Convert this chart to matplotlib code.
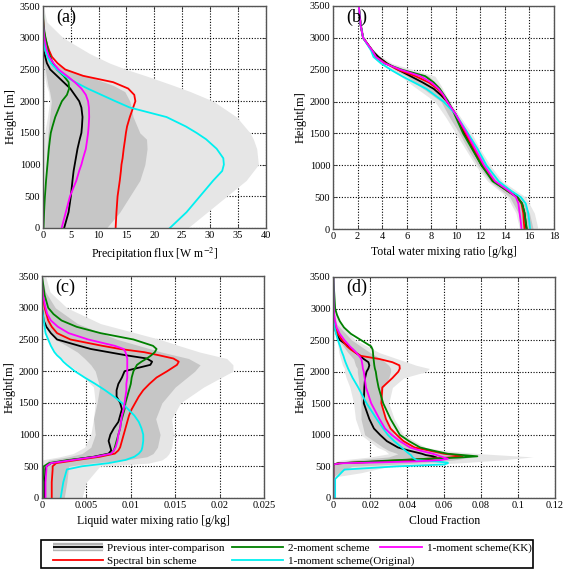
import numpy as np
import matplotlib
matplotlib.use('Agg')
import matplotlib.pyplot as plt
from matplotlib.lines import Line2D
from matplotlib.patches import Rectangle

plt.rcParams['font.family'] = ['Liberation Serif', 'DejaVu Serif']
plt.rcParams['mathtext.fontset'] = 'stix'

# === colours ===
C_LIGHT = '#e6e6e6'
C_DARK = '#c6c6c6'
C_RED = '#ff0000'
C_GREEN = '#008000'
C_CYAN = '#00f0f0'
C_MAG = '#ff00ff'

# === (a) precipitation flux ===
a_h = [0, 250, 500, 750, 900, 1000, 1100, 1250, 1400, 1500, 1600, 1750, 1900, 2000, 2100,
       2200, 2300, 2400, 2500, 2600, 2700, 2800, 2900, 3000, 3100, 3200, 3300, 3400, 3500]
a_red = [13.05, 13.2, 13.4, 13.8, 14.0, 14.1, 14.3, 14.5, 14.75, 14.9, 15.1, 15.6, 16.2, 16.6, 16.4,
         15.3, 12.6, 7.2, 4.0, 2.6, 1.6, 1.1, 0.7, 0.4, 0.2, 0.1, 0.02, 0, 0]
a_cyan = [22.8, 25.8, 28.2, 30.6, 32.2, 32.5, 32.4, 31.2, 29.3, 27.6, 25.7, 22.2, 15.6, 13.0, 10.5,
          8.0, 5.8, 3.9, 2.5, 1.4, 0.8, 0.4, 0.2, 0.1, 0.05, 0.02, 0, 0, 0]
a_green = [0.1, 0.2, 0.35, 0.55, 0.7, 0.8, 0.9, 1.05, 1.25, 1.4, 1.7, 2.2, 2.9, 3.4, 4.3,
           4.7, 4.6, 3.7, 2.5, 1.8, 1.3, 0.9, 0.7, 0.45, 0.25, 0.12, 0.05, 0.01, 0]
a_black = [3.8, 4.6, 5.0, 5.3, 5.5, 5.7, 5.9, 6.2, 6.6, 6.9, 7.0, 7.1, 6.9, 6.5, 5.7,
           4.9, 3.7, 2.5, 1.3, 0.7, 0.4, 0.1, 0, 0, 0, 0, 0, 0, 0]
a_mag = [3.35, 4.1, 4.85, 6.0, 6.5, 6.9, 7.2, 7.7, 7.95, 8.1, 8.2, 8.3, 8.25, 8.1, 7.7,
         6.9, 5.7, 4.3, 2.8, 1.9, 1.1, 0.7, 0.45, 0.25, 0.12, 0.05, 0.02, 0, 0]
a_band_h = [0, 250, 500, 750, 1000, 1250, 1400, 1500, 1750, 2000, 2150, 2250, 2400, 2500, 2600,
            2750, 3000, 3250, 3500]
a_light_lo = [0, 0, 0, 0, 0, 0, 0.1, 0.3, 0.8, 1.2, 1.0, 0.6, 0.3, 0.2, 0.1, 0, 0, 0, 0]
a_light_hi = [26, 29.5, 33, 36.5, 38.7, 38.4, 37.8, 37.2, 34.8, 30.6, 26.5, 23.4, 18.5, 15.0, 12.0,
              8.4, 3.6, 0.7, 0.05]
a_dark_lo = [0.3, 0.3, 0.4, 0.5, 0.6, 0.7, 0.8, 0.9, 1.2, 1.5, 1.2, 0.9, 0.6, 0.4, 0.2, 0.1, 0, 0, 0]
a_dark_hi = [11.4, 13.8, 15.6, 17.4, 18.3, 18.7, 18.6, 17.4, 16.2, 15.6, 14.7, 12.6, 7.8, 4.3, 1.9,
             0.5, 0, 0, 0]

# === (b) total water mixing ratio ===
b_h = [0, 100, 250, 400, 500, 600, 750, 1000, 1250, 1500, 1800, 2000, 2100, 2200, 2300, 2400,
       2500, 2600, 2700, 2800, 3000, 3200, 3500]
b_black = [15.75, 15.7, 15.6, 15.4, 15.0, 14.2, 13.1, 12.1, 11.4, 10.7, 10.0, 9.3, 8.8, 8.2, 7.3, 6.3,
           5.3, 4.4, 3.7, 3.2, 2.45, 2.25, 2.1]
b_green = [15.8, 15.7, 15.6, 15.4, 15.0, 14.2, 13.0, 12.1, 11.35, 10.6, 9.9, 9.4, 9.05, 8.7, 8.2, 7.5,
           5.6, 4.2, 3.5, 3.2, 2.45, 2.25, 2.1]
b_mag = [15.35, 15.3, 15.2, 15.1, 14.9, 14.3, 13.2, 12.3, 11.6, 10.9, 10.0, 9.3, 9.0, 8.6, 8.0, 7.1,
         5.5, 4.2, 3.5, 3.2, 2.45, 2.25, 2.1]
b_red = [15.6, 15.55, 15.5, 15.35, 15.0, 14.2, 13.1, 12.2, 11.5, 10.8, 10.0, 9.3, 8.95, 8.5, 7.8, 6.7,
         5.3, 4.3, 3.5, 3.2, 2.45, 2.25, 2.1]
b_cyan = [16.05, 16.0, 15.9, 15.7, 15.3, 14.5, 13.5, 12.5, 11.8, 11.0, 10.0, 9.0, 8.3, 7.6, 6.6, 5.6,
          4.7, 3.9, 3.3, 3.1, 2.45, 2.25, 2.1]
b_band_h = [0, 250, 500, 750, 1000, 1250, 1500, 1750, 2000, 2250, 2400, 2500, 2600, 2750, 3000, 3500]
b_light_lo = [15.2, 14.9, 14.2, 12.6, 11.6, 10.8, 10.0, 9.2, 8.3, 6.5, 5.5, 4.6, 4.0, 3.2, 2.4, 2.1]
b_light_hi = [16.7, 16.4, 15.7, 13.8, 12.8, 12.0, 11.3, 10.4, 9.5, 8.8, 8.3, 6.5, 4.8, 3.6, 2.5, 2.1]
b_dark_lo = [15.4, 15.1, 14.4, 12.8, 11.8, 11.0, 10.3, 9.5, 8.8, 7.0, 6.0, 5.0, 4.3, 3.3, 2.4, 2.1]
b_dark_hi = [16.3, 16.0, 15.3, 13.5, 12.5, 11.7, 11.0, 10.2, 9.4, 8.6, 7.8, 6.0, 4.5, 3.5, 2.5, 2.1]

# === (c) liquid water mixing ratio ===
c_h = [0, 250, 450, 500, 550, 600, 650, 700, 750, 800, 900, 1000, 1100, 1200, 1300, 1400, 1500,
       1600, 1700, 1800, 1900, 2000, 2100, 2150, 2200, 2250, 2300, 2350, 2400, 2500, 2600, 2700,
       2800, 2900, 3000, 3200, 3400, 3500]
c_green = [0.0001, 0.0001, 0.0002, 0.0002, 0.0008, 0.003, 0.006, 0.0077, 0.0081, 0.0082, 0.0084,
           0.0086, 0.0088, 0.0089, 0.0091, 0.0093, 0.0094, 0.0096, 0.0098, 0.0100, 0.0101, 0.0103,
           0.0107, 0.0112, 0.0118, 0.0123, 0.0127, 0.0129, 0.0125, 0.0103, 0.0066, 0.0039, 0.0022,
           0.0013, 0.0007, 0.0003, 0.0001, 0]
c_red = [0.0011, 0.0011, 0.0012, 0.0012, 0.0016, 0.0040, 0.0065, 0.0082, 0.0086, 0.0088, 0.009,
         0.0092, 0.0094, 0.0096, 0.0098, 0.0101, 0.0105, 0.0109, 0.0114, 0.0121, 0.0129, 0.0141,
         0.0152, 0.0154, 0.0148, 0.0132, 0.0115, 0.0088, 0.0068, 0.0032, 0.0017, 0.0011, 0.0007,
         0.0005, 0.0003, 0.0001, 0, 0]
c_black = [0.0003, 0.0003, 0.0004, 0.0005, 0.001, 0.0033, 0.0058, 0.0075, 0.0078, 0.0077, 0.0075,
           0.0077, 0.0081, 0.0086, 0.0088, 0.009, 0.0088, 0.0084, 0.0084, 0.0086, 0.009, 0.0093,
           0.0122, 0.0124, 0.0118, 0.0095, 0.0075, 0.0055, 0.0042, 0.0017, 0.001, 0.0005, 0.0002,
           0.0001, 0, 0, 0, 0]
c_mag = [0.0004, 0.0004, 0.0005, 0.0005, 0.001, 0.0035, 0.006, 0.0078, 0.0081, 0.0083, 0.0085,
         0.0086, 0.0088, 0.0089, 0.009, 0.0092, 0.0093, 0.0094, 0.0095, 0.0095, 0.0096, 0.0096,
         0.0096, 0.0096, 0.0096, 0.0095, 0.0094, 0.0092, 0.0082, 0.0052, 0.003, 0.0018, 0.001,
         0.0006, 0.0004, 0.0001, 0, 0]
c_cyan = [0.0021, 0.0024, 0.0028, 0.0045, 0.0075, 0.0094, 0.0104, 0.0109, 0.0112, 0.0113, 0.0114,
          0.0114, 0.0112, 0.0109, 0.0104, 0.0097, 0.009, 0.0081, 0.0071, 0.006, 0.0048, 0.0037,
          0.0028, 0.0024, 0.0021, 0.0017, 0.0014, 0.0012, 0.001, 0.0007, 0.0004, 0.0003, 0.0002,
          0.0001, 0, 0, 0, 0]
c_band_h = [0, 250, 500, 550, 600, 650, 700, 800, 1000, 1250, 1500, 1750, 2000, 2100, 2200, 2300,
            2400, 2500, 2750, 3000, 3250, 3500]
c_light_lo = [0, 0, 0, 0, 0, 0.002, 0.0035, 0.0048, 0.0055, 0.0058, 0.006, 0.0058, 0.004, 0.003,
              0.0022, 0.0015, 0.001, 0.0005, 0.0001, 0, 0, 0]
c_light_hi = [0.0045, 0.005, 0.0065, 0.012, 0.0135, 0.014, 0.0143, 0.0146, 0.0148, 0.0146, 0.0156,
              0.0182, 0.0215, 0.0215, 0.0208, 0.0178, 0.0155, 0.0133, 0.0066, 0.0028, 0.0009, 0.0004]
c_dark_lo = [0.0003, 0.0003, 0.0003, 0.0004, 0.0008, 0.003, 0.0045, 0.0055, 0.006, 0.0058, 0.0062,
             0.0065, 0.006, 0.0055, 0.0048, 0.004, 0.0028, 0.0015, 0.0004, 0, 0, 0]
c_dark_hi = [0.0025, 0.0028, 0.003, 0.0055, 0.0095, 0.0118, 0.0125, 0.013, 0.0133, 0.0128, 0.0135,
             0.015, 0.0172, 0.0178, 0.0165, 0.0135, 0.011, 0.0085, 0.004, 0.0015, 0.0004, 0]

# === (d) cloud fraction ===
d_h = [0, 300, 450, 500, 530, 550, 560, 580, 600, 620, 640, 660, 680, 700, 750, 800, 900, 1000,
       1100, 1250, 1500, 1750, 1900, 2000, 2050, 2100, 2150, 2200, 2250, 2300, 2350, 2400, 2500,
       2600, 2700, 2800, 2900, 3000, 3500]
d_green = [0, 0, 0, 0, 0, 0.003, 0.01, 0.022, 0.035, 0.05, 0.068, 0.078, 0.07, 0.062, 0.054, 0.047,
           0.041, 0.036, 0.034, 0.031, 0.027, 0.0245, 0.0235, 0.023, 0.0225, 0.0222, 0.022, 0.0218,
           0.0216, 0.0215, 0.0213, 0.0205, 0.015, 0.0095, 0.0058, 0.0035, 0.002, 0.001, 0]
d_red = [0, 0, 0, 0, 0, 0.003, 0.012, 0.025, 0.038, 0.05, 0.062, 0.07, 0.066, 0.06, 0.052, 0.044,
         0.038, 0.0343, 0.031, 0.0285, 0.026, 0.0265, 0.032, 0.0352, 0.036, 0.0358, 0.032, 0.025,
         0.015, 0.012, 0.0095, 0.0075, 0.0048, 0.0025, 0.0012, 0.0005, 0.0002, 0, 0]
d_black = [0, 0, 0, 0, 0, 0.003, 0.012, 0.03, 0.045, 0.053, 0.056, 0.054, 0.05, 0.048, 0.041, 0.035,
           0.029, 0.0253, 0.022, 0.0195, 0.0165, 0.0168, 0.0172, 0.018, 0.019, 0.0195, 0.019, 0.0165,
           0.0145, 0.0122, 0.0105, 0.0085, 0.0036, 0.0017, 0.0008, 0.0003, 0, 0, 0]
d_cyan = [0.001, 0.001, 0.006, 0.034, 0.06, 0.062, 0.062, 0.055, 0.045, 0.044, 0.043, 0.0425, 0.042,
          0.041, 0.039, 0.037, 0.033, 0.0295, 0.027, 0.0235, 0.018, 0.0135, 0.0105, 0.0088, 0.008,
          0.0073, 0.0066, 0.006, 0.0055, 0.0048, 0.0042, 0.0037, 0.0025, 0.0015, 0.0007, 0.0002, 0,
          0, 0]
d_mag = [0, 0, 0, 0, 0, 0.004, 0.02, 0.045, 0.058, 0.062, 0.06, 0.058, 0.056, 0.054, 0.047, 0.0415,
         0.036, 0.0316, 0.028, 0.025, 0.0205, 0.0177, 0.017, 0.0165, 0.016, 0.0158, 0.0155, 0.0152,
         0.014, 0.0125, 0.0108, 0.009, 0.006, 0.0035, 0.0018, 0.001, 0.0005, 0.0002, 0]
d_band_h = [330, 400, 500, 560, 600, 650, 700, 750, 800, 1000, 1250, 1500, 1750, 1900, 2000, 2050,
            2100, 2200, 2300, 2500, 2750, 3000, 3100]
d_light_lo = [0, 0, 0, 0, 0.004, 0.02, 0.03, 0.028, 0.024, 0.015, 0.012, 0.011, 0.009, 0.007, 0.006,
              0.006, 0.005, 0.004, 0.003, 0.002, 0, 0, 0]
d_light_hi = [0, 0.015, 0.03, 0.07, 0.09, 0.108, 0.08, 0.06, 0.05, 0.038, 0.033, 0.03, 0.032, 0.038,
              0.05, 0.052, 0.045, 0.035, 0.025, 0.012, 0.004, 0.001, 0]
d_dark_lo = [0, 0, 0, 0.002, 0.01, 0.03, 0.035, 0.03, 0.027, 0.017, 0.015, 0.015, 0.014, 0.0135,
             0.013, 0.013, 0.012, 0.011, 0.008, 0.003, 0.0005, 0, 0]
d_dark_hi = [0, 0.003, 0.01, 0.05, 0.065, 0.075, 0.065, 0.05, 0.045, 0.033, 0.028, 0.026, 0.027,
             0.03, 0.031, 0.031, 0.03, 0.026, 0.02, 0.01, 0.002, 0, 0]

labels = ['Previous inter-comparison', 'Spectral bin scheme', '2-moment scheme',
          '1-moment scheme(Original)', '1-moment scheme(KK)']

fig = plt.figure(figsize=(5.65, 5.69), dpi=100)

panels = [
    dict(rect=[0.0761, 0.5993, 0.394, 0.390], tag='(a)', xlim=(0, 40), xstep=5,
         xlabel='Precipitation flux [W m$^{-2}$]', ylabel='Height [m]',
         h=a_h, lines=[(a_black, 'k'), (a_red, C_RED), (a_green, C_GREEN), (a_cyan, C_CYAN), (a_mag, C_MAG)],
         bh=a_band_h, band=(a_light_lo, a_light_hi, a_dark_lo, a_dark_hi)),
    dict(rect=[0.5894, 0.5975, 0.3911, 0.392], tag='(b)', xlim=(0, 18), xstep=2,
         xlabel='Total water mixing ratio [g/kg]', ylabel='Height[m]',
         h=b_h, lines=[(b_black, 'k'), (b_red, C_RED), (b_green, C_GREEN), (b_cyan, C_CYAN), (b_mag, C_MAG)],
         bh=b_band_h, band=(b_light_lo, b_light_hi, b_dark_lo, b_dark_hi)),
    dict(rect=[0.0743, 0.1248, 0.393, 0.390], tag='(c)', xlim=(0, 0.025), xstep=0.005,
         xlabel='Liquid water mixing ratio [g/kg]', ylabel='Height[m]',
         h=c_h, lines=[(c_black, 'k'), (c_red, C_RED), (c_green, C_GREEN), (c_cyan, C_CYAN), (c_mag, C_MAG)],
         bh=c_band_h, band=(c_light_lo, c_light_hi, c_dark_lo, c_dark_hi)),
    dict(rect=[0.5899, 0.1248, 0.3924, 0.3885], tag='(d)', xlim=(0, 0.12), xstep=0.02,
         xlabel='Cloud Fraction', ylabel='Height[m]',
         h=d_h, lines=[(d_black, 'k'), (d_red, C_RED), (d_green, C_GREEN), (d_cyan, C_CYAN), (d_mag, C_MAG)],
         bh=d_band_h, band=(d_light_lo, d_light_hi, d_dark_lo, d_dark_hi)),
]

for p in panels:
    ax = fig.add_axes(p['rect'])
    lo1, hi1, lo2, hi2 = p['band']
    ax.fill_betweenx(p['bh'], lo1, hi1, color=C_LIGHT, lw=0, zorder=1)
    ax.fill_betweenx(p['bh'], lo2, hi2, color=C_DARK, lw=0, zorder=1.1)
    for vals, col in p['lines']:
        ax.plot(vals, p['h'], color=col, lw=1.3, zorder=2)
    ax.set_xlim(*p['xlim'])
    ax.set_ylim(0, 3500)
    ax.set_xticks(np.arange(p['xlim'][0], p['xlim'][1] + p['xstep'] / 2, p['xstep']))
    ax.set_yticks(np.arange(0, 3501, 500))
    ax.xaxis.set_major_formatter(matplotlib.ticker.FuncFormatter(lambda v, pos: '%g' % round(v, 4)))
    ax.grid(True, color='k', lw=0.8, linestyle=(0, (1, 1.5)), zorder=0.5)
    ax.set_axisbelow(True)
    ax.tick_params(direction='in', length=3, width=0.6, top=True, right=True,
                   labelsize=7.5, pad=2, colors='#333333', labelcolor='black')
    for s in ax.spines.values():
        s.set_color('#555555')
        s.set_linewidth(1.0)
    ax.set_xlabel(p['xlabel'], fontsize=8.5, labelpad=4)
    ax.set_ylabel(p['ylabel'], fontsize=9, labelpad=2)
    ax.text(0.06, 0.99, p['tag'], transform=ax.transAxes, fontsize=13, ha='left', va='top', zorder=3)

# === legend: box + three columns ===
fig.patches.append(Rectangle((41 / 565, 1 / 569), 492 / 565, 28 / 569, transform=fig.transFigure,
                             fill=False, edgecolor='k', lw=1.2))
prev_handle = (Line2D([], [], color='#b4b4b4', lw=6, solid_capstyle='butt'),
               Line2D([], [], color='#e0e0e0', lw=3.5, solid_capstyle='butt'),
               Line2D([], [], color='k', lw=1.3, solid_capstyle='butt'))
col_handles = [[prev_handle, Line2D([], [], color=C_RED, lw=1.3)],
               [Line2D([], [], color=C_GREEN, lw=1.3), Line2D([], [], color=C_CYAN, lw=1.3)],
               [Line2D([], [], color=C_MAG, lw=1.3)]]
col_labels = [labels[0:2], labels[2:4], labels[4:5]]
col_x = [53, 232, 380]
col_hlen = [4.5, 4.6, 3.8]
for hs, ls, x0, hl in zip(col_handles, col_labels, col_x, col_hlen):
    lg = fig.legend(hs, ls, loc='upper left', bbox_to_anchor=(x0 / 565, 1 - 543 / 569),
                    fontsize=8, frameon=False, handlelength=hl, handletextpad=0.4,
                    borderpad=0, borderaxespad=0, labelspacing=0.33)

fig.savefig('out.png', dpi=100)
